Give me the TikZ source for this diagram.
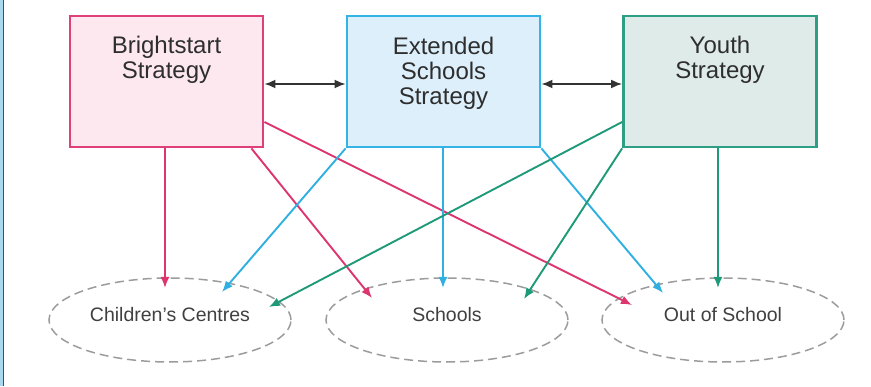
\documentclass[tikz,border=0pt]{standalone}
\usepackage{fontspec}
\setmainfont{Liberation Sans}
\usetikzlibrary{arrows.meta,shapes.geometric}
\definecolor{pinkline}{HTML}{E0407A}
\definecolor{pinkfill}{HTML}{FCE8EE}
\definecolor{blueline}{HTML}{33B4E4}
\definecolor{bluefill}{HTML}{DDEFFA}
\definecolor{greenline}{HTML}{2E9E85}
\definecolor{greenfill}{HTML}{DFEBE8}
\definecolor{pinkarrow}{HTML}{DD3570}
\definecolor{bluearrow}{HTML}{30B0E2}
\definecolor{greenarrow}{HTML}{1F9A78}
\definecolor{txt}{HTML}{2E2E2E}
\definecolor{etxt}{HTML}{404040}
\definecolor{dashgray}{HTML}{9C9C9C}
\definecolor{edgeblue}{HTML}{A8D8F0}
\tikzset{
  stratbox/.style={draw, line width=2.8pt, minimum width=193pt, minimum height=131pt, inner sep=0pt},
  boxtext/.style={anchor=north, inner sep=0pt, align=center, text=txt, font=\fontsize{24}{25}\selectfont},
  place/.style={ellipse, draw=dashgray, line width=1.5pt, dash pattern=on 9pt off 5pt, minimum width=242pt, minimum height=84pt, inner sep=0pt},
  placetext/.style={inner sep=0pt, text=etxt, font=\fontsize{19.5}{22}\selectfont},
  link/.style={line width=1.9pt, -{Latex[length=11pt,width=9pt]}},
  both/.style={line width=1.9pt, draw=black!80, {Latex[length=11pt,width=9pt]}-{Latex[length=11pt,width=9pt]}}
}
\begin{document}
\begin{tikzpicture}[x=1pt,y=1pt]
\useasboundingbox (0,0) rectangle (871,386);
\fill[white] (0,0) rectangle (871,386);
\fill[edgeblue] (0,0) rectangle (2.6,386);
\draw[black!70, line width=1pt] (3,0) -- (3,386);

% strategy boxes
\node[stratbox, draw=pinkline, fill=pinkfill] (bs) at (166.5,304.5) {};
\node[stratbox, draw=blueline, fill=bluefill] (es) at (443.5,304.5) {};
\node[stratbox, draw=greenline, fill=greenfill] (ys) at (720,304.5) {};
\node[boxtext] (bst) at (166.5,350) {Brightstart\\Strategy};
\node[boxtext] (est) at (443.5,349) {Extended\\Schools\\Strategy};
\node[boxtext] (yst) at (720,350) {Youth\\Strategy};

% places
\node[place] (cc) at (170,66) {};
\node[place] (ss) at (447,66) {};
\node[place] (oo) at (723,66) {};
\node[placetext] (cct) at ([yshift=5pt]cc.center) {Children’s Centres};
\node[placetext] (sst) at ([yshift=5pt]ss.center) {Schools};
\node[placetext] (oot) at ([yshift=5pt]oo.center) {Out of School};

% double arrows
\draw[both] ([yshift=-2.5pt]bs.east) -- ([yshift=-2.5pt]es.west);
\draw[both] ([yshift=-2.5pt]es.east) -- ([yshift=-2.5pt]ys.west);

% pink links
\draw[link, pinkarrow] ([xshift=-1.5pt]bs.south) -- ([shift={(-5pt,32pt)}]cc.center);
\draw[link, pinkarrow] ([xshift=-13pt]bs.south east) -- ([shift={(-75pt,22pt)}]ss.center);
\draw[link, pinkarrow] ([yshift=-40.5pt]bs.east) -- ([shift={(-91pt,15pt)}]oo.center);

% blue links
\draw[link, bluearrow] (es.south west) -- ([shift={(52pt,28pt)}]cc.center);
\draw[link, bluearrow] ([xshift=-0.5pt]es.south) -- ([shift={(-4pt,32pt)}]ss.center);
\draw[link, bluearrow] (es.south east) -- ([shift={(-60pt,27pt)}]oo.center);

% green links
\draw[link, greenarrow] ([yshift=-40.5pt]ys.west) -- ([shift={(99pt,13pt)}]cc.center);
\draw[link, greenarrow] (ys.south west) -- ([shift={(77pt,21pt)}]ss.center);
\draw[link, greenarrow] ([xshift=-2pt]ys.south) -- ([shift={(-5pt,32pt)}]oo.center);
\end{tikzpicture}
\end{document}
